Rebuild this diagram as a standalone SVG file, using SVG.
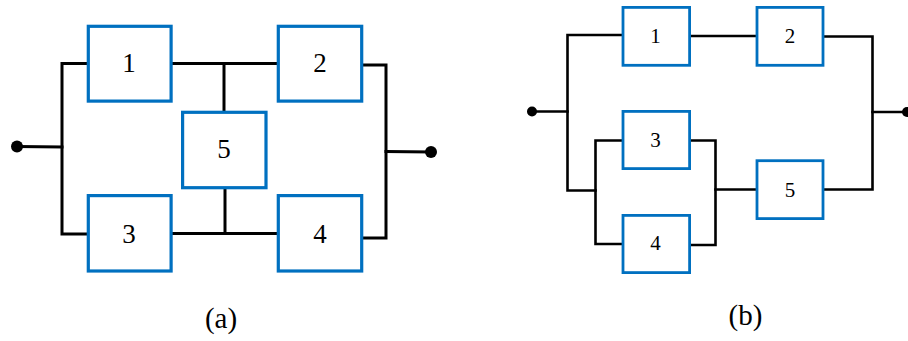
<svg xmlns="http://www.w3.org/2000/svg" width="908" height="341" viewBox="0 0 908 341">
<style>
.box{fill:#fff;stroke:#0070C0;stroke-width:3.2}
.bx{fill:#fff;stroke:#0070C0;stroke-width:2.8}
.w{fill:none;stroke:#000;stroke-width:3;stroke-linecap:square}
.wb{fill:none;stroke:#000;stroke-width:2.6;stroke-linecap:square}
.dot{fill:#000}
text{font-family:'Liberation Serif','DejaVu Serif',serif;fill:#000;text-anchor:middle}
.la{font-size:27px}
.lb{font-size:21px}
.cap{font-size:29px}
</style>
<rect width="908" height="341" fill="#fff"/>
<g id="connectors">
  <polyline class="w" points="17,146.5 62,147"/>
  <polyline class="w" points="88,63.5 62,63.5 62,234 88,234"/>
  <polyline class="w" points="172,63.5 278,63.5"/>
  <polyline class="w" points="224,63.5 224,111"/>
  <polyline class="w" points="225,189 225,233.5"/>
  <polyline class="w" points="172,233.5 278,233.5"/>
  <polyline class="w" points="362,65 386,65 386,238 362,238"/>
  <polyline class="w" points="386,151.5 431,152"/>
  <circle class="dot" cx="17" cy="146.5" r="6"/>
  <circle class="dot" cx="431" cy="152" r="6"/>
  <polyline class="wb" points="532,111.5 567.5,111.5"/>
  <polyline class="wb" points="622,35 567.5,35 567.5,190.5 595.5,190.5"/>
  <polyline class="wb" points="691,36 756,36"/>
  <polyline class="wb" points="824,36.5 872.5,36.5 872.5,189.5 824,189.5"/>
  <polyline class="wb" points="872.5,112 907,112"/>
  <polyline class="wb" points="622,140.5 595.5,140.5 595.5,244 622,244"/>
  <polyline class="wb" points="691,140.5 715.5,140.5 715.5,245 691,245"/>
  <polyline class="wb" points="715.5,189.5 756,189.5"/>
  <circle class="dot" cx="532" cy="111.5" r="5"/>
  <circle class="dot" cx="907" cy="112" r="5"/>
</g>
<g id="a1"><rect class="box" x="88.3" y="26.3" width="82.8" height="74.8"/><text class="la" x="129" y="72">1</text></g>
<g id="a2"><rect class="box" x="278.3" y="26.3" width="83.4" height="74.8"/><text class="la" x="320" y="72">2</text></g>
<g id="a5"><rect class="box" x="182.6" y="112.3" width="83.4" height="75.4"/><text class="la" x="224" y="158">5</text></g>
<g id="a3"><rect class="box" x="88.3" y="195.6" width="82.8" height="75.4"/><text class="la" x="129" y="242.5">3</text></g>
<g id="a4"><rect class="box" x="278.3" y="195.6" width="83.4" height="75.4"/><text class="la" x="320" y="242.5">4</text></g>
<g id="b1"><rect class="bx" x="623" y="7.4" width="66.6" height="57.9"/><text class="lb" x="655.5" y="42.7">1</text></g>
<g id="b2"><rect class="bx" x="757" y="7.4" width="66" height="57.9"/><text class="lb" x="790" y="43">2</text></g>
<g id="b3"><rect class="bx" x="623" y="111.4" width="66.6" height="57.2"/><text class="lb" x="655.5" y="146.7">3</text></g>
<g id="b4"><rect class="bx" x="623" y="215.4" width="66.6" height="57.2"/><text class="lb" x="655.5" y="250">4</text></g>
<g id="b5"><rect class="bx" x="757" y="160.7" width="66" height="57.9"/><text class="lb" x="790" y="196.7">5</text></g>
<g id="captions">
  <text class="cap" x="221" y="328">(a)</text>
  <text class="cap" x="745.5" y="325">(b)</text>
</g>
</svg>
